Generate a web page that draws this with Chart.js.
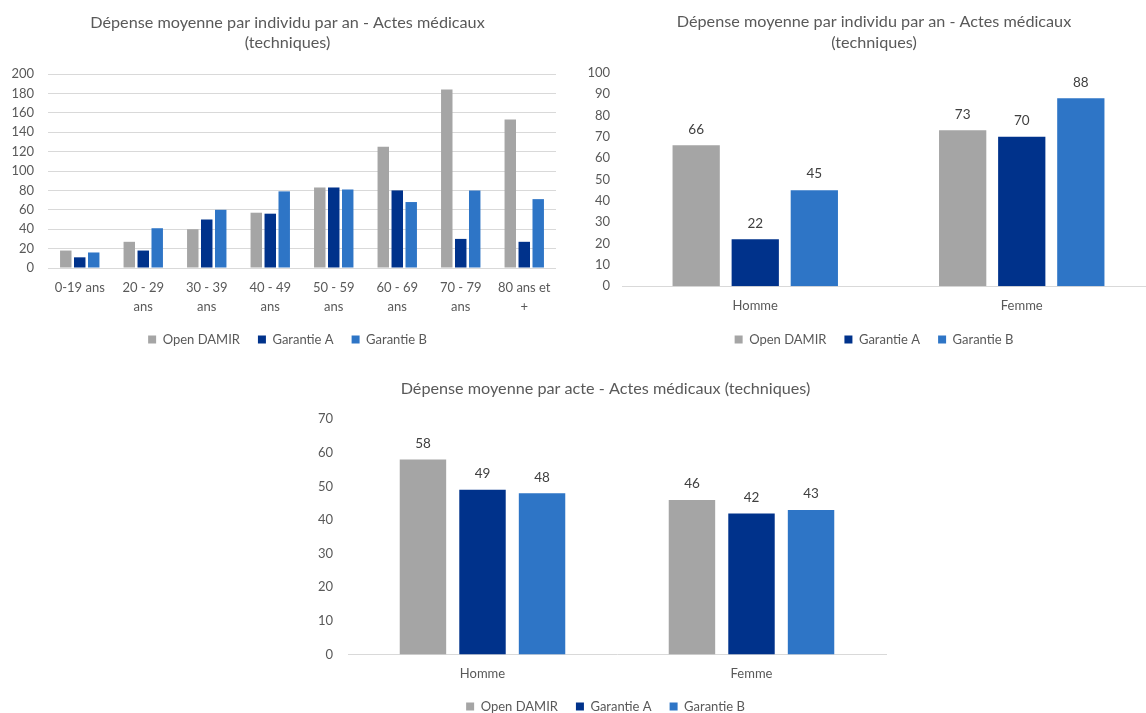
<!DOCTYPE html>
<html lang="fr">
<head>
<meta charset="utf-8">
<title>Actes médicaux (techniques)</title>
<script src="https://cdn.jsdelivr.net/npm/chart.js@4.4.1/dist/chart.umd.min.js"></script>
<style>
  html, body { margin: 0; padding: 0; background: #ffffff; overflow: hidden; }
  body { width: 1146px; height: 713px; position: relative; }
  .box { position: absolute; }
</style>
</head>
<body>
<div class="box" style="left:0px;top:0px;"><canvas id="ageChart" width="575" height="356"></canvas></div>
<div class="box" style="left:583px;top:0px;"><canvas id="sexeChart" width="582" height="356"></canvas></div>
<div class="box" style="left:315px;top:370px;"><canvas id="acteChart" width="581" height="353"></canvas></div>
<script>
// Series names and colours
const seriesNames = ['Open DAMIR', 'Garantie A', 'Garantie B'];
const seriesColors = ['#a5a5a5', '#00328b', '#2e75c6'];

// Dépense moyenne par individu par an, par tranche d'âge
const ageGroups = ['0-19 ans', '20 - 29 ans', '30 - 39 ans', '40 - 49 ans', '50 - 59 ans', '60 - 69 ans', '70 - 79 ans', '80 ans et +'];
const ageOpenDamir = [18, 27, 40, 57, 83, 125, 184, 153];
const ageGarantieA = [11, 18, 50, 56, 83, 80, 30, 27];
const ageGarantieB = [16, 41, 60, 79, 81, 68, 80, 71];

// Dépense moyenne par individu par an, par sexe
const sexes = ['Homme', 'Femme'];
const sexeOpenDamir = [66, 73];
const sexeGarantieA = [22, 70];
const sexeGarantieB = [45, 88];

// Dépense moyenne par acte, par sexe
const acteOpenDamir = [58, 46];
const acteGarantieA = [49, 42];
const acteGarantieB = [48, 43];

const FONT = 'Lato, "Open Sans", sans-serif';
const TEXT_COLOR = '#595959';
const LINE_COLOR = '#d9d9d9';

Chart.defaults.font.family = FONT;
Chart.defaults.color = TEXT_COLOR;

// Wrap a category name onto several lines like the office chart does
function wrapLabel(label, maxChars) {
    const words = label.split(' ');
    const lines = [];
    let line = '';
    words.forEach(w => {
        const next = line ? line + ' ' + w : w;
        if (next.length > maxChars && line) {
            lines.push(line);
            line = w;
        } else {
            line = next;
        }
    });
    lines.push(line);
    return lines.length > 1 ? lines : lines[0];
}

// Values printed above each bar
const valueLabels = {
    id: 'valueLabels',
    afterDatasetsDraw(chart, args, opts) {
        if (!opts.display) return;
        const ctx = chart.ctx;
        ctx.save();
        ctx.font = '13.5px ' + FONT;
        ctx.fillStyle = '#404040';
        ctx.textAlign = 'center';
        ctx.textBaseline = 'middle';
        chart.data.datasets.forEach((ds, i) => {
            chart.getDatasetMeta(i).data.forEach((bar, j) => {
                ctx.fillText(ds.data[j], bar.x, bar.y - 16);
            });
        });
        ctx.restore();
    }
};
Chart.register(valueLabels);

function makeDatasets(values, catPct, barPct) {
    return values.map((data, i) => ({
        label: seriesNames[i],
        data: data,
        yAxisID: 'y',
        backgroundColor: seriesColors[i],
        borderWidth: 0,
        categoryPercentage: catPct,
        barPercentage: barPct
    }));
}

function buildChart(id, cfg) {
    return new Chart(document.getElementById(id), {
        type: 'bar',
        data: {
            labels: cfg.labels,
            datasets: makeDatasets(cfg.values, cfg.catPct, cfg.barPct)
        },
        options: {
            responsive: false,
            animation: false,
            layout: { padding: 0 },
            plugins: {
                title: {
                    display: true,
                    text: cfg.title,
                    color: TEXT_COLOR,
                    font: { size: 16.2, weight: 'normal', lineHeight: cfg.titleLine + 'px' },
                    padding: { top: cfg.titleTop, bottom: cfg.titleBottom }
                },
                legend: {
                    position: 'bottom',
                    labels: {
                        boxWidth: 8,
                        boxHeight: 8,
                        padding: 18,
                        color: TEXT_COLOR,
                        font: { size: 13 }
                    }
                },
                tooltip: { enabled: false },
                valueLabels: { display: cfg.showValues }
            },
            scales: {
                x: {
                    grid: { display: false, drawTicks: false },
                    border: { display: cfg.axisLine, color: LINE_COLOR, width: 1 },
                    ticks: {
                        padding: 10,
                        color: TEXT_COLOR,
                        maxRotation: 0,
                        autoSkip: false,
                        font: { size: 13, lineHeight: '19px' },
                        callback: function (value) {
                            return wrapLabel(this.getLabelForValue(value), 9);
                        }
                    },
                    afterFit: scale => { scale.height = cfg.xHeight; }
                },
                y: {
                    min: 0,
                    max: cfg.max,
                    grid: { display: cfg.gridLines, color: LINE_COLOR, lineWidth: 1, drawTicks: false },
                    border: { display: false },
                    ticks: {
                        stepSize: cfg.step,
                        padding: cfg.yPad,
                        color: TEXT_COLOR,
                        font: { size: 13 }
                    },
                    afterFit: scale => { scale.width = cfg.yWidth; }
                },
                // empty band on the right, keeps the plot narrower than the title
                yGap: {
                    position: 'right',
                    grid: { display: false, drawTicks: false },
                    border: { display: false },
                    ticks: { display: false },
                    afterFit: scale => { scale.width = cfg.rightGap; }
                }
            }
        }
    });
}

buildChart('ageChart', {
    labels: ageGroups,
    values: [ageOpenDamir, ageGarantieA, ageGarantieB],
    title: ['Dépense moyenne par individu par an - Actes médicaux', '(techniques)'],
    titleLine: 20, titleTop: 13, titleBottom: 21,
    catPct: 0.66, barPct: 0.82,
    max: 200, step: 20,
    gridLines: true, axisLine: false, showValues: false,
    yWidth: 48, yPad: 14, rightGap: 19, xHeight: 47
});

buildChart('sexeChart', {
    labels: sexes,
    values: [sexeOpenDamir, sexeGarantieA, sexeGarantieB],
    title: ['Dépense moyenne par individu par an - Actes médicaux', '(techniques)'],
    titleLine: 21, titleTop: 11, titleBottom: 19.7,
    catPct: 0.665, barPct: 0.8,
    max: 100, step: 10,
    gridLines: false, axisLine: true, showValues: true,
    yWidth: 39, yPad: 12, rightGap: 10, xHeight: 28.8
});

buildChart('acteChart', {
    labels: sexes,
    values: [acteOpenDamir, acteGarantieA, acteGarantieB],
    title: 'Dépense moyenne par acte - Actes médicaux (techniques)',
    titleLine: 20, titleTop: 9, titleBottom: 20.3,
    catPct: 0.664, barPct: 0.78,
    max: 70, step: 10,
    gridLines: false, axisLine: true, showValues: true,
    yWidth: 33, yPad: 15, rightGap: 10, xHeight: 27.5
});
</script>
</body>
</html>
